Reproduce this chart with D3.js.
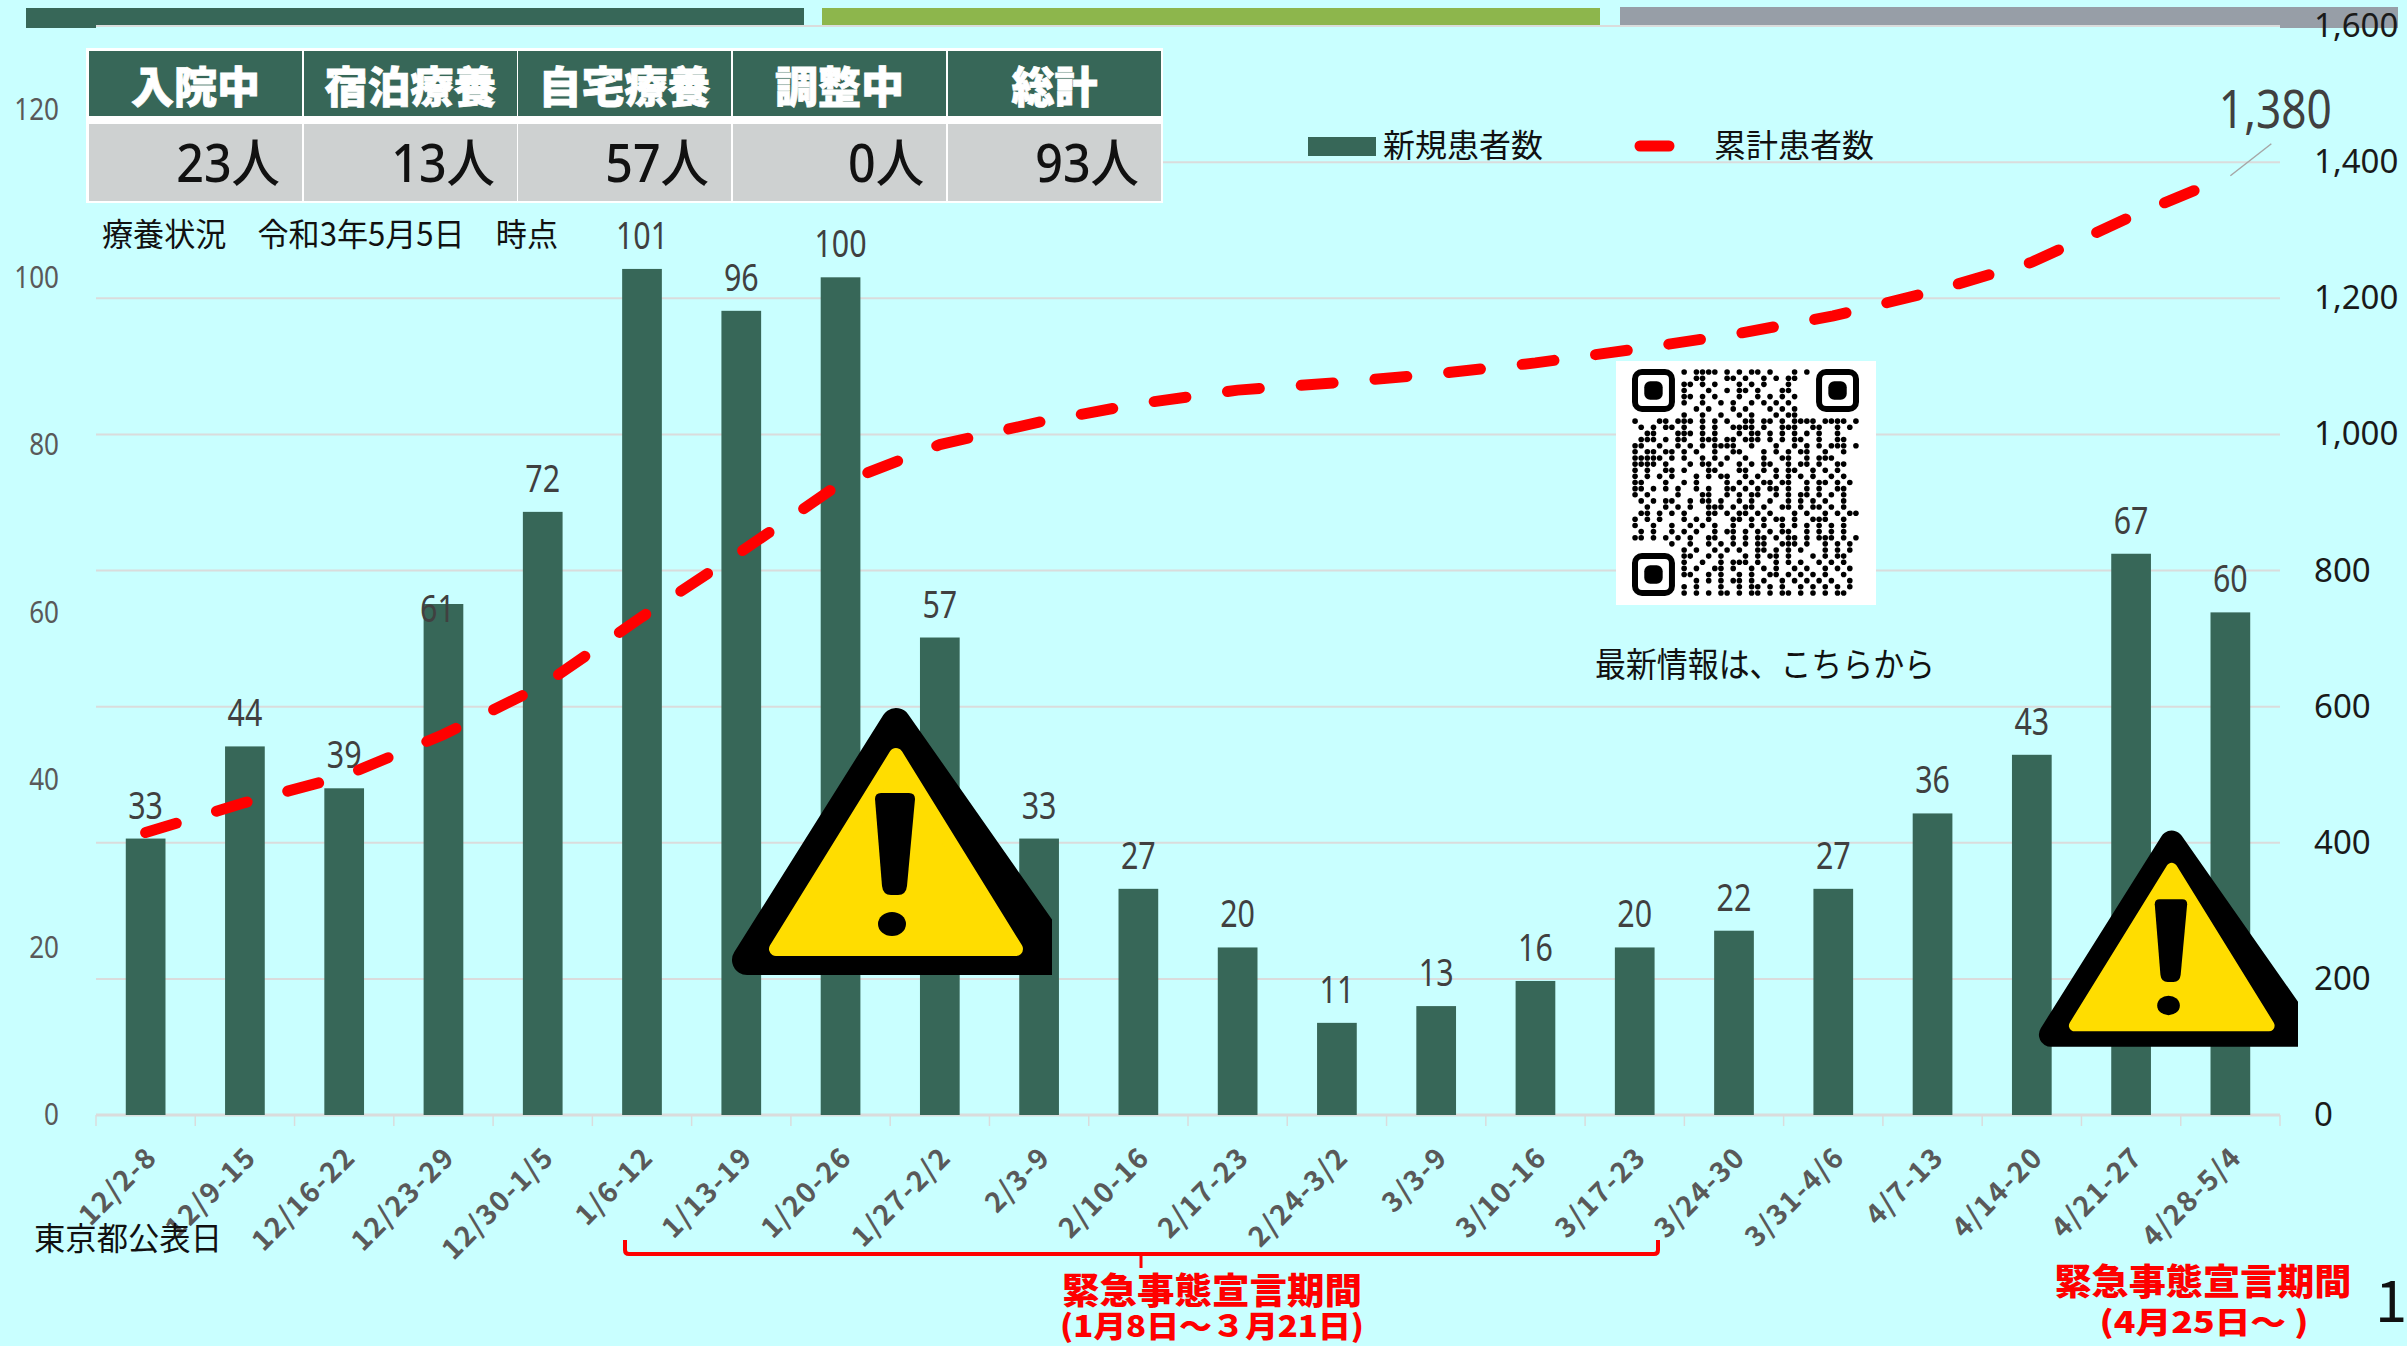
<!DOCTYPE html>
<html>
<head>
<meta charset="utf-8">
<script src="https://cdn.jsdelivr.net/npm/d3@7"></script>
<style>
    html, body { margin: 0; padding: 0; background: #c9ffff; overflow: hidden; }
    text { font-family: "Noto Sans CJK JP", sans-serif; }
    .num { font-family: "Noto Sans", "Noto Sans CJK JP", sans-serif; }
</style>
</head>
<body>
<div id="chart"></div>
<script>
// chart data
const weeks = ["12/2-8","12/9-15","12/16-22","12/23-29","12/30-1/5","1/6-12","1/13-19","1/20-26","1/27-2/2","2/3-9","2/10-16","2/17-23","2/24-3/2","3/3-9","3/10-16","3/17-23","3/24-30","3/31-4/6","4/7-13","4/14-20","4/21-27","4/28-5/4"];
const newPatients = [33,44,39,61,72,101,96,100,57,33,27,20,11,13,16,20,22,27,36,43,67,60];
const totalPatients = [415,459,498,559,631,732,828,928,985,1018,1045,1065,1076,1089,1105,1125,1147,1174,1210,1253,1320,1380];
const leftTicks = [0,20,40,60,80,100,120];
const rightTicks = [0,200,400,600,800,1000,1200,1400,1600];

// status table
const tableHeads = ["入院中","宿泊療養","自宅療養","調整中","総計"];
const tableValues = ["23人","13人","57人","0人","93人"];

// QR picture, read by eye (finder squares are drawn separately)
const qrRows = [
"........#.####.#.#.##.#...#.#........",
"..........##...##.#..#.#.##..........",
"........##.#.#...#.#.#...#...........",
"........#...#..#.##.#...##...........",
"........##.#.#...#..#.#.#.#..........",
"........#..#..#.#..#.#.#.#...........",
"..........#.#...#.#...#.#.#..........",
"........#..#..#..#.#...#.##..........",
"#...##.###.#.#.#..##.##.#.####.####.#",
".#.#.##.#..#.#..####.#..###..##..#.#.",
"..##...###.#.#...#.##.#.#.#.#.#..#...",
".###.#.##..###.##.###.#.#.##..#..##..",
"##..#..#.#.#.####..#...#..#.#.#.###.#",
"#.##.##.#.#..#..##...#.#.#.##..#..#..",
"#####.#.#..#.#.#..#..#..##..#.###....",
"####.#...#.##.#..#.#.##..#.##.#..##..",
"#.#..##.#...##...##..#.#.##..#.#.#...",
"#.#.#.#...#.#.##..#.#..#.#.#.#..#.#..",
"##...#..#.#....#.#.#.##.##..#.##.#.#.",
"##.#.#.#..#.#..##.#.#.##.#..#.#..##..",
"#.#....#...##..#.#.##..#.#.##.#.#.#..",
".#.#.##..#.##.#..#.#..#..#.#.#.#..#..",
"..#..#.#.#..###.#.##.#..##.#.##.#.#..",
".##.#.#.#...##.#.##.#.#...#.#..#.#.##",
"#.#.#...#.#.#...##.#.#.##.#..###..#..",
"#..#..#..#.#.#..#..#.#..#.#.#.#.#.#..",
".#.#..#.#.#..#.##.#.#.#.##..#.#.#.#..",
"##.#.#.#.#..##..#.#.##.#.##.#.###.#.#",
"......#..#..#.#.#.#.##..###.#..#.#.#.",
"........#.#..#.#.#..##.#.#.#...#.#.#.",
"........##..#.#...#.#.##.#...#.#.##..",
"........#..#..#.###.#..#.#.#..#.#.#..",
"........#.#..##.#..#.#.#..#.#..#.#.#.",
"........##..#.#..#.#..##.#.#.#.#..#..",
"..........#.#.#.##.#.#..#.#.#.#.#..#.",
"........#.#...#..#.##.#.#..#.#.#.#.#.",
"........#.#.#.##.#.##.#.##.#.#.#.##.."
];

let svg = d3.select("#chart").append("svg")
    .attr("width", 2407)
    .attr("height", 1346)
    .style("display", "block");

svg.append("rect").attr("width", 2407).attr("height", 1346).attr("fill", "#c9ffff");

// squeeze text to the narrow digits of the original
function narrow(sel, factor) {
    sel.each(function() {
        d3.select(this)
            .attr("textLength", this.getComputedTextLength() * factor)
            .attr("lengthAdjust", "spacingAndGlyphs");
    });
}

// plot area
let margin = { top: 26, left: 96 };
let width = 2184, height = 1089;
let gridColor = "#dadcdc";

let x = d3.scaleBand().domain(weeks).range([0, width]).paddingInner(0.6).paddingOuter(0.3);
let yLeft = d3.scaleLinear().domain([0, 130]).range([height, 0]);
let yRight = d3.scaleLinear().domain([0, 1600]).range([height, 0]);

let plot = svg.append("g").attr("transform", "translate(" + margin.left + "," + margin.top + ")");

plot.append("g").selectAll("line")
    .data(rightTicks)
    .enter().append("line")
    .attr("x1", 0).attr("x2", width)
    .attr("y1", d => yRight(d)).attr("y2", d => yRight(d))
    .attr("stroke", gridColor).attr("stroke-width", 2);

// left axis labels
let leftAxis = plot.append("g")
    .call(d3.axisLeft(yLeft).tickValues(leftTicks).tickSize(0).tickPadding(37));
leftAxis.select(".domain").remove();
leftAxis.selectAll("text").attr("class", "num").attr("font-size", 31).attr("fill", "#595959").call(narrow, 0.84);

// x axis
let xAxis = plot.append("g")
    .attr("transform", "translate(0," + height + ")")
    .call(d3.axisBottom(x).tickSize(0).tickPadding(0));
xAxis.select(".domain").remove();
xAxis.selectAll("text")
    .attr("font-family", "Noto Sans")
    .attr("font-size", 28)
    .attr("font-weight", 700)
    .attr("letter-spacing", 1.5)
    .attr("fill", "#595959")
    .attr("text-anchor", "end")
    .attr("dy", 0)
    .attr("transform", "translate(13,44) rotate(-45)");

let step = x.step();
plot.append("g").selectAll("line")
    .data(d3.range(weeks.length + 1))
    .enter().append("line")
    .attr("x1", d => d * step).attr("x2", d => d * step)
    .attr("y1", height).attr("y2", height + 11)
    .attr("stroke", gridColor).attr("stroke-width", 1.5);

plot.append("line")
    .attr("x1", 0).attr("x2", width)
    .attr("y1", height).attr("y2", height)
    .attr("stroke", gridColor).attr("stroke-width", 3);

// bars
plot.append("g").selectAll("rect")
    .data(newPatients)
    .enter().append("rect")
    .attr("x", (d, i) => x(weeks[i]))
    .attr("y", d => yLeft(d))
    .attr("width", x.bandwidth())
    .attr("height", d => height - yLeft(d))
    .attr("fill", "#376758");

// bar labels (61 sits lower in the original)
plot.append("g").selectAll("text")
    .data(newPatients)
    .enter().append("text")
    .attr("class", "num")
    .attr("x", (d, i) => x(weeks[i]) + x.bandwidth() / 2 + (d === 61 ? -6 : 0))
    .attr("y", d => yLeft(d) - 20 + (d === 61 ? 38 : 0))
    .attr("text-anchor", "middle")
    .attr("font-size", 38)
    .attr("fill", "#404040")
    .text(d => d)
    .call(narrow, 0.8);

// cumulative line
let line = d3.line()
    .x((d, i) => x(weeks[i]) + x.bandwidth() / 2)
    .y(d => yRight(d));

plot.append("path")
    .datum(totalPatients)
    .attr("d", line)
    .attr("fill", "none")
    .attr("stroke", "#ff0000")
    .attr("stroke-width", 11)
    .attr("stroke-linecap", "round")
    .attr("stroke-dasharray", "32 42");

// leader line + last value label
let lastX = x(weeks[21]) + x.bandwidth() / 2;
let lastY = yRight(totalPatients[21]);
plot.append("line")
    .attr("x1", lastX).attr("y1", lastY)
    .attr("x2", lastX + 41).attr("y2", lastY - 32)
    .attr("stroke", "#a6a6a6").attr("stroke-width", 1.5);
plot.append("text")
    .attr("class", "num")
    .attr("x", lastX + 45).attr("y", lastY - 48)
    .attr("text-anchor", "middle")
    .attr("font-size", 52)
    .attr("fill", "#404040")
    .text(d3.format(",")(totalPatients[21]))
    .call(narrow, 0.85);

// coloured strips on top
let strips = svg.append("g");
strips.append("rect").attr("x", 26).attr("y", 8).attr("width", 778).attr("height", 17).attr("fill", "#376758");
strips.append("rect").attr("x", 26).attr("y", 8).attr("width", 70).attr("height", 20).attr("fill", "#376758");
strips.append("rect").attr("x", 822).attr("y", 8).attr("width", 778).attr("height", 17).attr("fill", "#8db64c");
strips.append("rect").attr("x", 1620).attr("y", 7).attr("width", 778).attr("height", 18).attr("fill", "#979ea7");
strips.append("rect").attr("x", 2280).attr("y", 7).attr("width", 118).attr("height", 21).attr("fill", "#979ea7");

// right axis labels, above the grey strip
let rightAxis = svg.append("g")
    .attr("transform", "translate(" + (margin.left + width) + "," + margin.top + ")")
    .call(d3.axisRight(yRight).tickValues(rightTicks).tickSize(0).tickPadding(34).tickFormat(d3.format(",")));
rightAxis.select(".domain").remove();
rightAxis.selectAll("text").attr("class", "num").attr("font-size", 33).attr("fill", "#1a1a1a");

// status table
let table = svg.append("g");
let colX = [89, 304, 518, 733, 948];
let colW = 213;
table.append("rect").attr("x", 86).attr("y", 48).attr("width", 1077).attr("height", 155).attr("fill", "#ffffff");
tableHeads.forEach((h, i) => {
    table.append("rect").attr("x", colX[i]).attr("y", 51).attr("width", colW).attr("height", 65).attr("fill", "#376758");
    table.append("rect").attr("x", colX[i]).attr("y", 124).attr("width", colW).attr("height", 77).attr("fill", "#ced1d1");
    table.append("text")
        .attr("x", colX[i] + colW / 2).attr("y", 103)
        .attr("text-anchor", "middle")
        .attr("font-size", 43).attr("font-weight", 900)
        .attr("fill", "#ffffff")
        .attr("stroke", "#ffffff").attr("stroke-width", 0.8)
        .text(h);
    table.append("text")
        .attr("class", "num")
        .attr("x", colX[i] + colW - 22).attr("y", 182)
        .attr("text-anchor", "end")
        .attr("font-size", 52).attr("font-weight", 500)
        .attr("fill", "#111111")
        .text(tableValues[i])
        .call(narrow, 0.93);
});

svg.append("text").attr("x", 102).attr("y", 246)
    .attr("font-size", 32).attr("fill", "#111111")
    .attr("textLength", 456).attr("lengthAdjust", "spacingAndGlyphs")
    .text("療養状況　令和3年5月5日　時点");

// legend
let legend = svg.append("g");
legend.append("rect").attr("x", 1308).attr("y", 137).attr("width", 68).attr("height", 19).attr("fill", "#376758");
legend.append("text").attr("x", 1383).attr("y", 157).attr("font-size", 32).attr("fill", "#111111").text("新規患者数");
legend.append("line").attr("x1", 1640).attr("x2", 1669).attr("y1", 146).attr("y2", 146)
    .attr("stroke", "#ff0000").attr("stroke-width", 11).attr("stroke-linecap", "round");
legend.append("text").attr("x", 1714).attr("y", 157).attr("font-size", 32).attr("fill", "#111111").text("累計患者数");

// QR block
let blur = svg.append("filter").attr("id", "qrBlur");
blur.append("feGaussianBlur").attr("stdDeviation", 0.6);

let qr = svg.append("g");
qr.append("rect").attr("x", 1616).attr("y", 361).attr("width", 260).attr("height", 244).attr("fill", "#ffffff");
let qrDots = qr.append("g").attr("filter", "url(#qrBlur)");
let qrX = 1632, qrY = 369, qrStep = 227 / 37;
qrRows.forEach((row, r) => {
    row.split("").forEach((c, k) => {
        if (c === "#") {
            qrDots.append("circle")
                .attr("cx", qrX + (k + 0.5) * qrStep)
                .attr("cy", qrY + (r + 0.5) * qrStep)
                .attr("r", 2.8)
                .attr("fill", "#000000");
        }
    });
});
[[0, 0], [30, 0], [0, 30]].forEach(p => {
    qrDots.append("rect")
        .attr("x", qrX + p[0] * qrStep + 3).attr("y", qrY + p[1] * qrStep + 3)
        .attr("width", 7 * qrStep - 6).attr("height", 7 * qrStep - 6)
        .attr("rx", 7)
        .attr("fill", "none").attr("stroke", "#000000").attr("stroke-width", 6);
    qrDots.append("rect")
        .attr("x", qrX + p[0] * qrStep + 2 * qrStep).attr("y", qrY + p[1] * qrStep + 2 * qrStep)
        .attr("width", 3 * qrStep).attr("height", 3 * qrStep)
        .attr("rx", 6)
        .attr("fill", "#000000");
});
svg.append("text").attr("x", 1595).attr("y", 677)
    .attr("font-size", 34).attr("fill", "#111111")
    .attr("textLength", 340).attr("lengthAdjust", "spacingAndGlyphs")
    .text("最新情報は、こちらから");

// warning signs
svg.append("clipPath").attr("id", "signClip")
    .append("rect").attr("x", 700).attr("y", 690).attr("width", 352).attr("height", 300);

function drawSign(transform) {
    let g = svg.append("g").attr("transform", transform);
    let inner = g.append("g").attr("clip-path", "url(#signClip)");
    inner.append("path")
        .attr("d", "M896 723 L747 960 L1062 960 Z")
        .attr("fill", "#000000").attr("stroke", "#000000")
        .attr("stroke-width", 30).attr("stroke-linejoin", "round");
    inner.append("path")
        .attr("d", "M896 755 L776 949 L1016 949 Z")
        .attr("fill", "#ffdd00").attr("stroke", "#ffdd00")
        .attr("stroke-width", 14).attr("stroke-linejoin", "round");
    inner.append("path")
        .attr("d", "M875 799 Q875 793 881 793 L909 793 Q915 793 915 799 L907 886 Q906 895 898 895 L891 895 Q883 895 882 886 Z")
        .attr("fill", "#000000");
    inner.append("ellipse")
        .attr("cx", 892).attr("cy", 924).attr("rx", 14).attr("ry", 12)
        .attr("fill", "#000000");
}
drawSign("translate(0,0)");
drawSign("translate(1446,257) scale(0.81)");

// footer text
svg.append("text").attr("x", 34).attr("y", 1250).attr("font-size", 32).attr("fill", "#111111")
    .attr("textLength", 188).attr("lengthAdjust", "spacingAndGlyphs").text("東京都公表日");

svg.append("path")
    .attr("d", "M625 1240 L625 1250 Q625 1254 629 1254 L1654 1254 Q1658 1254 1658 1250 L1658 1240")
    .attr("fill", "none").attr("stroke", "#ff0000").attr("stroke-width", 4);
svg.append("line").attr("x1", 1141).attr("x2", 1141).attr("y1", 1254).attr("y2", 1268)
    .attr("stroke", "#ff0000").attr("stroke-width", 3);

function redLabel(txt, cx, y, len, size) {
    svg.append("text")
        .attr("x", cx - len / 2).attr("y", y)
        .attr("font-size", size).attr("font-weight", 900)
        .attr("fill", "#ff0000")
        .attr("textLength", len).attr("lengthAdjust", "spacingAndGlyphs")
        .text(txt);
}
redLabel("緊急事態宣言期間", 1212, 1304, 300, 36);
redLabel("(1月8日～３月21日)", 1212, 1337, 304, 30);
redLabel("緊急事態宣言期間", 2203, 1295, 297, 36);
redLabel("(4月25日～ )", 2204, 1333, 209, 30);

svg.append("text").attr("x", 2375).attr("y", 1322)
    .attr("font-family", "Liberation Serif").attr("font-size", 58).attr("fill", "#111111").text("1");
</script>
</body>
</html>
